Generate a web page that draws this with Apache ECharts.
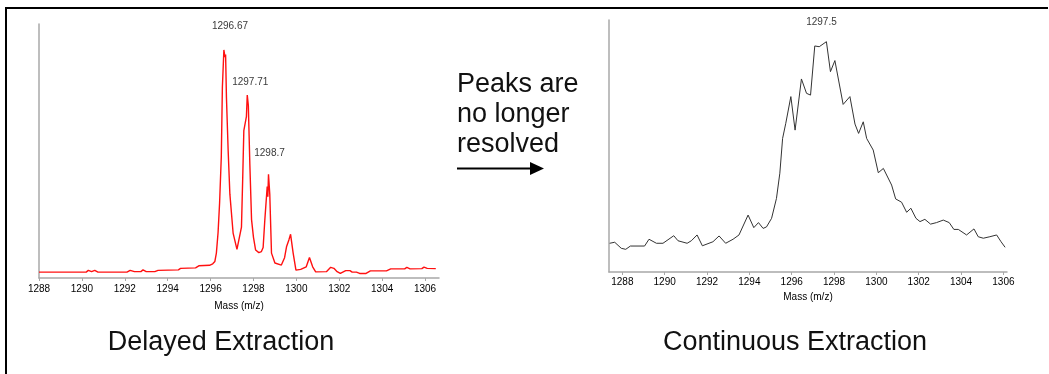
<!DOCTYPE html>
<html>
<head>
<meta charset="utf-8">
<script src="https://cdn.jsdelivr.net/npm/echarts@6/dist/echarts.min.js"></script>
<style>
html,body{margin:0;padding:0;background:#fff;}
#chart{width:1049px;height:374px;}
</style>
</head>
<body>
<div id="chart"></div>
<script>
// ---- Data ----
const tickValues = [1288, 1290, 1292, 1294, 1296, 1298, 1300, 1302, 1304, 1306];
const axisTitle = 'Mass (m/z)';

const delayedMz = [
  1288.0, 1290.2, 1290.3, 1290.45, 1290.6, 1290.75, 1292.1, 1292.25, 1292.45, 1292.75,
  1292.85, 1293.0, 1293.4, 1293.55, 1294.5, 1294.6, 1295.3, 1295.45, 1295.95, 1296.1,
  1296.2, 1296.27, 1296.35, 1296.42, 1296.5, 1296.55, 1296.62, 1296.67, 1296.7, 1296.74,
  1296.82, 1296.9, 1297.05, 1297.23, 1297.32, 1297.44, 1297.5, 1297.55, 1297.67, 1297.71,
  1297.76, 1297.83, 1297.91, 1298.0, 1298.1, 1298.25, 1298.37, 1298.45, 1298.53, 1298.64,
  1298.67, 1298.7, 1298.76, 1298.84, 1299.0, 1299.3, 1299.45, 1299.54, 1299.65, 1299.73,
  1299.85, 1299.98, 1300.2, 1300.46, 1300.61, 1300.76, 1300.9, 1301.4, 1301.6, 1301.75,
  1301.9, 1302.05, 1302.3, 1302.5, 1302.6, 1302.8, 1302.95, 1303.25, 1303.45, 1304.2,
  1304.4, 1305.05, 1305.15, 1305.3, 1305.85, 1305.95, 1306.1, 1306.5
];
const delayedIntensity = [
  2.3, 2.3, 3.0, 2.5, 3.0, 2.3, 2.3, 3.0, 2.5, 2.5,
  3.2, 2.5, 2.5, 3.0, 3.2, 3.8, 4.0, 4.8, 5.0, 5.6,
  6.5, 9.8, 18, 29.5, 47.8, 75, 89.8, 87, 88, 71,
  50, 33, 17.7, 11.3, 11.3, 20, 40, 58, 63.5, 72,
  68, 45, 23, 16, 11, 10, 10.4, 12, 23, 36,
  32, 40.8, 33, 9.8, 5.9, 5.1, 8, 12.3, 15, 17.2,
  9.8, 3.1, 3.4, 4.4, 8.1, 4.4, 2.4, 2.5, 4.2, 3.8,
  2.5, 1.8, 2.9, 2.9, 2.3, 2.3, 1.8, 1.8, 2.8, 2.8,
  3.6, 3.6, 4.2, 3.6, 3.7, 4.3, 3.8, 3.7
];
const delayedPeakMz = [1296.67, 1297.71, 1298.7];
const delayedPeakIntensity = [89.8, 72, 40.8];

const continuousMz = [
  1287.4, 1287.64, 1287.95, 1288.16, 1288.38, 1289.05, 1289.26, 1289.61, 1289.92, 1290.43,
  1290.63, 1291.06, 1291.26, 1291.53, 1291.78, 1292.28, 1292.57, 1292.88, 1293.23, 1293.51,
  1293.94, 1294.21, 1294.43, 1294.65, 1294.81, 1295.05, 1295.28, 1295.44, 1295.57, 1295.72,
  1295.96, 1296.16, 1296.46, 1296.7, 1296.89, 1297.09, 1297.3, 1297.64, 1297.83, 1298.04,
  1298.43, 1298.75, 1298.99, 1299.16, 1299.38, 1299.54, 1299.85, 1300.09, 1300.33, 1300.72,
  1300.91, 1301.19, 1301.43, 1301.63, 1301.87, 1302.06, 1302.29, 1302.56, 1302.84, 1303.16,
  1303.44, 1303.66, 1303.87, 1304.26, 1304.61, 1304.81, 1305.05, 1305.36, 1305.68, 1305.89,
  1306.08
];
const continuousIntensity = [
  11.4, 11.8, 9.4, 9.0, 10.3, 10.3, 13.0, 11.4, 11.4, 14.4,
  12.4, 11.4, 12.4, 14.7, 10.4, 12.0, 14.3, 11.4, 13.0, 14.7,
  22.6, 17.6, 19.6, 17.3, 17.9, 21.3, 29.2, 39.2, 53.0, 59.0,
  69.6, 56.3, 76.6, 70.9, 70.2, 89.7, 89.4, 91.4, 79.5, 83.9,
  66.5, 69.6, 58.7, 55.0, 59.6, 53.0, 48.4, 39.4, 41.1, 34.5,
  29.0, 27.7, 23.7, 25.3, 21.3, 20.0, 20.9, 19.0, 19.6, 20.6,
  19.6, 16.9, 16.9, 14.7, 17.1, 14.0, 13.4, 14.0, 14.7, 12.0,
  9.8
];
const continuousPeakMz = [1297.5];
const continuousPeakIntensity = [91.4];

const captionLeft = 'Delayed Extraction';
const captionRight = 'Continuous Extraction';
const middleNote = ['Peaks are', 'no longer', 'resolved'];

// ---- Chart ----
const pairs = (xs, ys) => xs.map((x, i) => [x, ys[i]]);
const FONT = '"Liberation Sans", Arial, sans-serif';
const axisGray = '#a8a8a8';
const BIG = '27px ' + FONT;

function makeX(gridIndex, min, max, margin, nameGap) {
  return {
    type: 'value', gridIndex, min, max,
    axisLine: { show: true, lineStyle: { color: axisGray, width: 1.5 } },
    axisTick: { show: true, customValues: tickValues, length: 3, lineStyle: { color: axisGray } },
    axisLabel: { customValues: tickValues, color: '#000', fontSize: 10, fontFamily: FONT, margin,
      formatter: v => String(v) },
    splitLine: { show: false },
    name: axisTitle, nameLocation: 'middle', nameGap,
    nameTextStyle: { color: '#000', fontSize: 10, fontFamily: FONT }
  };
}
function makeY(gridIndex) {
  return {
    type: 'value', gridIndex, min: 0, max: 100,
    axisLine: { show: true, onZero: false, lineStyle: { color: axisGray, width: 1.5 } },
    axisTick: { show: false }, axisLabel: { show: false }, splitLine: { show: false }
  };
}
function peakSeries(idx, xs, ys, offsets) {
  return {
    type: 'scatter', xAxisIndex: idx, yAxisIndex: idx, symbolSize: 0, silent: true,
    data: xs.map((x, i) => ({
      value: [x, ys[i]],
      label: { offset: offsets[i] }
    })),
    label: {
      show: true, position: 'top', color: '#000', fontSize: 10, fontFamily: FONT,
      formatter: p => String(p.value[0])
    }
  };
}

const chart = echarts.init(document.getElementById('chart'), null, { renderer: 'canvas' });
chart.setOption({
  animation: false,
  backgroundColor: '#fff',
  grid: [
    { left: 39, top: 24, width: 400, height: 254 },
    { left: 609, top: 20, width: 398, height: 252 }
  ],
  xAxis: [makeX(0, 1288, 1306.65, 6, 23), makeX(1, 1287.37, 1306.17, 5, 19)],
  yAxis: [makeY(0), makeY(1)],
  series: [
    {
      type: 'line', xAxisIndex: 0, yAxisIndex: 0, showSymbol: false, silent: true,
      data: pairs(delayedMz, delayedIntensity),
      lineStyle: { color: '#ff1010', width: 1.4 }
    },
    {
      type: 'line', xAxisIndex: 1, yAxisIndex: 1, showSymbol: false, silent: true,
      data: pairs(continuousMz, continuousIntensity),
      lineStyle: { color: '#333', width: 1 }
    },
    peakSeries(0, delayedPeakMz, delayedPeakIntensity, [[5, -14], [3, -3], [1, -11]]),
    peakSeries(1, continuousPeakMz, continuousPeakIntensity, [[-2, -9]])
  ],
  graphic: [
    { type: 'polyline', silent: true, shape: { points: [[6, 374], [6, 8], [1048, 8]] },
      style: { stroke: '#000', lineWidth: 2, fill: null } },
    { type: 'text', silent: true, x: 221, y: 343,
      style: { text: captionLeft, font: BIG, fill: '#111', textAlign: 'center', textVerticalAlign: 'middle' } },
    { type: 'text', silent: true, x: 795, y: 343,
      style: { text: captionRight, font: BIG, fill: '#111', textAlign: 'center', textVerticalAlign: 'middle' } },
    { type: 'text', silent: true, x: 457, y: 85,
      style: { text: middleNote[0], font: BIG, fill: '#111', textAlign: 'left', textVerticalAlign: 'middle' } },
    { type: 'text', silent: true, x: 457, y: 115,
      style: { text: middleNote[1], font: BIG, fill: '#111', textAlign: 'left', textVerticalAlign: 'middle' } },
    { type: 'text', silent: true, x: 457, y: 145,
      style: { text: middleNote[2], font: BIG, fill: '#111', textAlign: 'left', textVerticalAlign: 'middle' } },
    { type: 'line', silent: true, shape: { x1: 457, y1: 168.5, x2: 532, y2: 168.5 },
      style: { stroke: '#000', lineWidth: 2 } },
    { type: 'polygon', silent: true, shape: { points: [[530, 162], [544, 168.5], [530, 175]] },
      style: { fill: '#000' } }
  ]
});
</script>
</body>
</html>
